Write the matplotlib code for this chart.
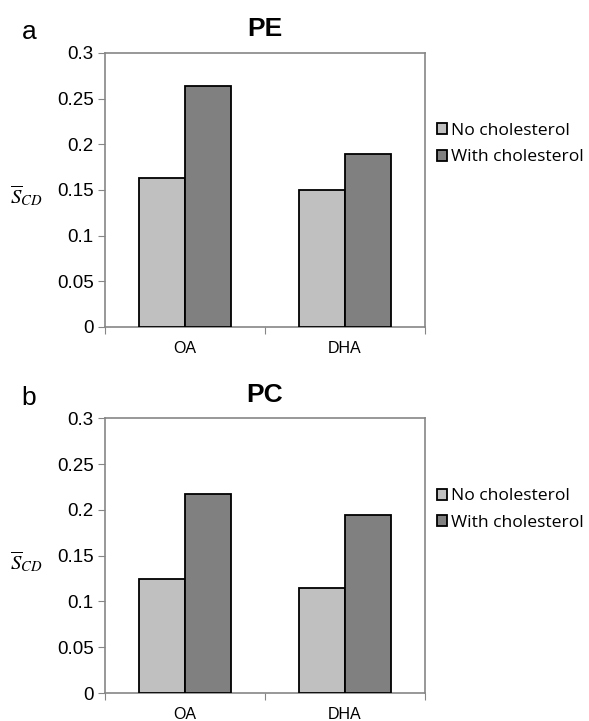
import numpy as np
import matplotlib
matplotlib.use("Agg")
import matplotlib.pyplot as plt

# values
categories = ["OA", "DHA"]
series_names = ["No cholesterol", "With cholesterol"]
pe_no_chol = [0.163, 0.150]
pe_with_chol = [0.264, 0.189]
pc_no_chol = [0.125, 0.115]
pc_with_chol = [0.217, 0.194]
yticks = [0, 0.05, 0.1, 0.15, 0.2, 0.25, 0.3]
ytick_labels = ["0", "0.05", "0.1", "0.15", "0.2", "0.25", "0.3"]

light = "#c0c0c0"
dark = "#808080"
axis_gray = "#868686"

plt.rcParams['font.family'] = ['Liberation Sans', 'DejaVu Sans']
plt.rcParams['mathtext.fontset'] = 'stix'


def draw_panel(fig, rect, title, letter, no_chol, with_chol):
    ax = fig.add_axes(rect)
    x = np.arange(len(categories))
    w = 0.287
    ax.bar(x - w / 2, no_chol, w, color=light, edgecolor="black", linewidth=1.3,
           label=series_names[0], zorder=3)
    ax.bar(x + w / 2, with_chol, w, color=dark, edgecolor="black", linewidth=1.3,
           label=series_names[1], zorder=3)
    ax.set_xlim(-0.5, len(categories) - 0.5)
    ax.set_ylim(0, 0.3)
    ax.set_yticks(yticks)
    ax.set_yticklabels(ytick_labels, fontsize=13.5)
    ax.set_xticks([-0.5, 0.5, 1.5])
    ax.set_xticklabels([])
    ax.set_xticks(x, minor=True)
    ax.set_xticklabels(categories, minor=True, fontsize=11.5)
    ax.tick_params(axis="x", which="minor", length=0, pad=10)
    ax.tick_params(axis="x", which="major", length=5, color=axis_gray, direction="out")
    ax.tick_params(axis="y", length=5, color=axis_gray, direction="out", pad=3)
    for s in ax.spines.values():
        s.set_color(axis_gray)
        s.set_linewidth(1.2)
    ax.set_title(title, fontsize=19, fontweight="bold", pad=12)
    ax.set_ylabel(r"$\overline{S}_{CD}$", rotation=0, fontsize=15, va="center")
    ax.yaxis.set_label_coords(-0.245, 0.48)
    ax.text(-0.26, 1.075, letter, transform=ax.transAxes, fontsize=19, va="center", ha="left")
    ax.legend(loc="upper left", bbox_to_anchor=(1.0, 0.79), frameon=False,
              prop={"family": ["Open Sans", "DejaVu Sans"], "size": 12.6},
              handlelength=0.6, handleheight=0.6, handletextpad=0.2,
              labelspacing=0.6, borderaxespad=0.3)
    return ax


fig = plt.figure(figsize=(5.89, 7.21), dpi=100)
draw_panel(fig, [0.178, 0.5465, 0.543, 0.380], "PE", "a", pe_no_chol, pe_with_chol)
draw_panel(fig, [0.178, 0.0388, 0.543, 0.381], "PC", "b", pc_no_chol, pc_with_chol)

fig.savefig("out.png", dpi=100)
